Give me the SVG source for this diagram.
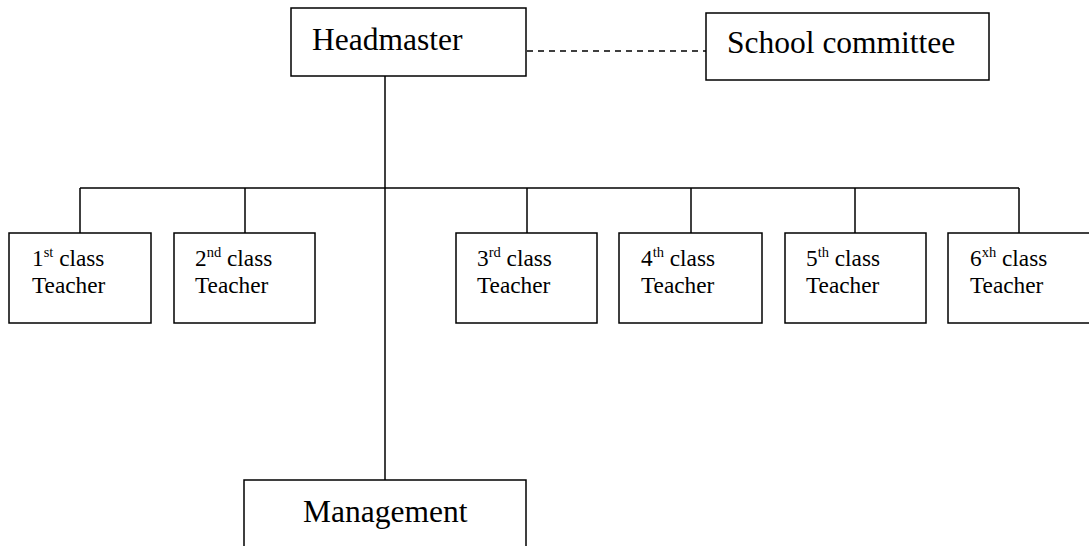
<svg xmlns="http://www.w3.org/2000/svg" width="1089" height="546" viewBox="0 0 1089 546">
<style>
.box{fill:#fff;stroke:#000;stroke-width:1.5}
.ln{fill:none;stroke:#000;stroke-width:1.5}
.dash{fill:none;stroke:#000;stroke-width:1.5;stroke-dasharray:6 5}
.big{font-family:"Liberation Serif","Times New Roman",serif;font-size:31.5px;fill:#000}
.sm{font-family:"Liberation Serif","Times New Roman",serif;font-size:23.3px;fill:#000}
.sup{font-size:14.5px}
</style>
<rect width="1089" height="546" fill="#fff"/>
<g id="connectors">
<line class="ln" x1="385" y1="76" x2="385" y2="480"/>
<line class="ln" x1="80" y1="188" x2="1019" y2="188"/>
<line class="ln" x1="80" y1="188" x2="80" y2="233"/>
<line class="ln" x1="245" y1="188" x2="245" y2="233"/>
<line class="ln" x1="527" y1="188" x2="527" y2="233"/>
<line class="ln" x1="691" y1="188" x2="691" y2="233"/>
<line class="ln" x1="855" y1="188" x2="855" y2="233"/>
<line class="ln" x1="1019" y1="188" x2="1019" y2="233"/>
<line class="dash" x1="527" y1="51" x2="706" y2="51"/>
</g>
<g id="headmaster">
<rect class="box" x="291" y="8" width="235" height="68"/>
<text class="big" x="312" y="50">Headmaster</text>
</g>
<g id="school-committee">
<rect class="box" x="706" y="13" width="283" height="67"/>
<text class="big" x="727" y="53">School committee</text>
</g>
<g id="teacher1">
<rect class="box" x="9" y="233" width="142" height="90"/>
<text class="sm" x="32" y="266">1<tspan class="sup" dy="-9">st</tspan><tspan dy="9"> class</tspan></text>
<text class="sm" x="32" y="293">Teacher</text>
</g>
<g id="teacher2">
<rect class="box" x="174" y="233" width="141" height="90"/>
<text class="sm" x="195" y="266">2<tspan class="sup" dy="-9">nd</tspan><tspan dy="9"> class</tspan></text>
<text class="sm" x="195" y="293">Teacher</text>
</g>
<g id="teacher3">
<rect class="box" x="456" y="233" width="141" height="90"/>
<text class="sm" x="477" y="266">3<tspan class="sup" dy="-9">rd</tspan><tspan dy="9"> class</tspan></text>
<text class="sm" x="477" y="293">Teacher</text>
</g>
<g id="teacher4">
<rect class="box" x="619" y="233" width="143" height="90"/>
<text class="sm" x="641" y="266">4<tspan class="sup" dy="-9">th</tspan><tspan dy="9"> class</tspan></text>
<text class="sm" x="641" y="293">Teacher</text>
</g>
<g id="teacher5">
<rect class="box" x="785" y="233" width="141" height="90"/>
<text class="sm" x="806" y="266">5<tspan class="sup" dy="-9">th</tspan><tspan dy="9"> class</tspan></text>
<text class="sm" x="806" y="293">Teacher</text>
</g>
<g id="teacher6">
<rect class="box" x="948" y="233" width="142" height="90"/>
<text class="sm" x="970" y="266">6<tspan class="sup" dy="-9">xh</tspan><tspan dy="9"> class</tspan></text>
<text class="sm" x="970" y="293">Teacher</text>
</g>
<g id="management">
<rect class="box" x="244" y="480" width="282" height="80"/>
<text class="big" x="303" y="522">Management</text>
</g>
</svg>
